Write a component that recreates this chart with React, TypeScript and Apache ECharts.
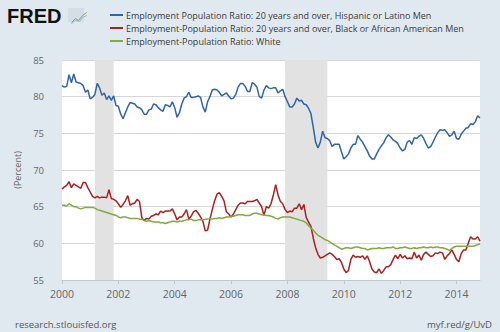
import React, { useEffect, useRef } from "react";
import * as echarts from "echarts";

const START_YEAR = 2000;
const SERIES_NAMES = [
  "Employment Population Ratio: 20 years and over, Hispanic or Latino Men",
  "Employment-Population Ratio: 20 years and over, Black or African American Men",
  "Employment-Population Ratio: White",
];

const hispanicMen = [
  81.5, 81.3, 81.4, 83.0, 81.9, 83.1, 82.0, 81.9, 81.8, 81.5, 80.6, 80.9,
  79.7, 79.9, 80.3, 81.8, 81.2, 80.2, 80.5, 79.6, 80.1, 79.5, 80.1, 78.8,
  78.7, 77.6, 77.0, 77.8, 78.6, 79.2, 79.1, 79.0, 78.6, 78.5, 78.2, 77.6,
  77.6, 78.2, 78.3, 79.0, 78.9, 78.5, 78.2, 78.0, 78.9, 78.8, 78.6, 79.3,
  78.5, 77.2, 77.8, 79.0, 79.8, 80.0, 80.6, 79.9, 79.9, 80.0, 80.1, 79.9,
  78.6, 77.9, 79.3, 80.0, 80.9, 81.0, 80.9, 80.6, 80.1, 80.3, 80.5, 80.1,
  79.7, 79.8, 80.3, 81.3, 81.8, 81.8, 81.4, 80.7, 80.7, 81.9, 81.7, 81.3,
  80.0, 79.8, 80.9, 81.5, 81.2, 81.1, 81.2, 81.2, 80.5, 80.8, 81.0, 80.0,
  79.3, 78.6, 78.6, 79.0, 79.8, 79.4, 79.5, 79.0, 78.9, 78.4, 77.7, 75.8,
  73.8, 73.0, 73.8, 75.3, 74.4, 74.3, 74.0, 73.2, 73.5, 73.5, 73.5, 72.5,
  71.5, 71.8, 72.2, 73.0, 73.5, 73.5, 74.7, 74.2, 73.8, 73.2, 72.6, 71.9,
  71.5, 71.5, 72.2, 72.8, 73.3, 73.7, 74.4, 74.8, 74.5, 74.1, 73.9, 73.6,
  73.0, 72.6, 72.8, 73.8, 74.0, 73.5, 74.4, 74.3, 74.6, 74.8, 74.3, 73.6,
  73.0, 73.2, 73.8, 74.5, 75.1, 75.5, 75.4, 75.5, 75.1, 74.6, 74.8, 75.3,
  74.3, 74.2, 74.9, 75.3, 75.7, 75.8, 76.3, 76.2, 76.6, 77.4, 77.1,
];

const blackMen = [
  67.4, 67.7, 67.9, 68.4, 67.6, 68.1, 67.9, 67.7, 67.5, 68.3, 68.3, 67.6,
  67.0, 66.4, 66.2, 66.4, 66.2, 66.3, 66.3, 66.2, 67.3, 66.1, 66.0, 65.8,
  65.4, 64.9, 65.3, 65.8, 66.5, 65.2, 65.4, 65.5, 66.0, 65.7, 63.5, 63.1,
  63.4, 63.3, 63.7, 63.8, 64.0, 63.9, 64.4, 64.2, 64.4, 64.4, 64.4, 64.7,
  64.0, 63.2, 63.6, 63.6, 64.0, 64.6, 63.3, 63.7, 64.3, 64.5, 64.1, 63.6,
  63.0, 61.7, 61.8, 63.3, 64.6, 65.8, 66.7, 66.9, 66.4, 65.8, 64.3, 64.0,
  63.6, 64.0, 64.6, 65.2, 65.5, 65.5, 65.4, 65.7, 65.7, 65.7, 65.8, 66.0,
  65.5, 65.0, 63.8, 65.0, 64.8, 65.4, 66.6, 68.0, 66.6, 65.7, 65.4, 64.6,
  64.2, 64.4, 64.3, 64.8, 64.8, 65.4, 64.6, 65.3, 63.5, 62.9, 62.3, 60.7,
  59.4, 58.5, 58.0, 58.1, 58.3, 58.5, 58.7, 58.5, 58.2, 57.8, 57.9, 57.4,
  56.5, 56.0, 56.3, 57.8, 58.4, 58.1, 58.2, 58.1, 58.3, 57.8, 58.3, 57.5,
  56.5, 56.1, 56.0, 56.5, 55.9, 56.3, 56.8, 56.8, 57.1, 57.8, 58.4, 57.9,
  58.5, 58.0, 58.3, 57.9, 58.0, 57.9, 58.8, 58.0, 58.4, 57.7, 58.5, 58.8,
  58.5, 58.2, 58.3, 58.7, 58.6, 58.8, 58.7, 57.8, 58.3, 58.6, 59.1, 58.5,
  57.8, 57.5, 58.6, 59.1, 59.1, 60.0, 60.9, 60.6, 60.6, 60.9, 60.3,
];

const white = [
  65.2, 65.2, 65.1, 65.4, 65.2, 65.0, 65.0, 64.8, 64.7, 64.8, 64.9, 64.9,
  64.9, 64.9, 64.8, 64.6, 64.5, 64.4, 64.3, 64.2, 64.1, 64.0, 63.9, 63.8,
  63.6, 63.5, 63.6, 63.6, 63.5, 63.4, 63.4, 63.4, 63.4, 63.3, 63.3, 63.1,
  63.0, 63.1, 63.0, 62.9, 62.9, 62.9, 62.8, 62.8, 62.7, 62.8, 62.9, 63.0,
  63.0, 62.9, 63.0, 63.0, 63.1, 63.2, 63.2, 63.3, 63.1, 63.1, 63.2, 63.2,
  63.2, 63.3, 63.3, 63.4, 63.3, 63.4, 63.4, 63.5, 63.4, 63.5, 63.6, 63.6,
  63.7, 63.7, 63.8, 63.9, 63.9, 63.9, 63.8, 63.8, 63.8, 64.0, 64.1, 64.1,
  64.0, 63.9, 63.9, 63.8, 63.8, 63.7, 63.6, 63.4, 63.3, 63.5, 63.6, 63.6,
  63.6, 63.6, 63.5, 63.4, 63.3, 63.2, 63.1, 63.0, 62.8, 62.4, 62.1, 61.8,
  61.4, 61.1, 60.9, 60.7, 60.5, 60.4, 60.2, 60.0, 59.8, 59.6, 59.4, 59.2,
  59.3, 59.4, 59.4, 59.3, 59.4, 59.5, 59.5, 59.4, 59.3, 59.3, 59.1, 59.2,
  59.3, 59.3, 59.3, 59.4, 59.3, 59.3, 59.4, 59.4, 59.4, 59.5, 59.3, 59.3,
  59.4, 59.4, 59.5, 59.4, 59.3, 59.3, 59.4, 59.3, 59.4, 59.4, 59.5, 59.4,
  59.4, 59.5, 59.4, 59.5, 59.5, 59.4, 59.4, 59.3, 59.2, 59.0, 59.3, 59.5,
  59.6, 59.6, 59.6, 59.6, 59.6, 59.6, 59.6, 59.6, 59.7, 59.8, 60.0,
];

// Recessions as [start, end] in decimal years
const recessions = [
  [2001 + 2 / 12, 2001 + 10 / 12],
  [2007 + 11 / 12, 2009 + 5 / 12],
];

const COLORS = ["#2f64a8", "#aa1f1f", "#82aa3c"];

const toXY = (vals: number[]) => vals.map((v, i) => [START_YEAR + i / 12, v]);

export default function App() {
  const ref = useRef<HTMLDivElement>(null);
  useEffect(() => {
    if (!ref.current) return;
    const chart = echarts.init(ref.current, undefined, { renderer: "svg" });
    const lastX = START_YEAR + (hispanicMen.length - 1) / 12;
    const font = "'Open Sans', 'DejaVu Sans', sans-serif";
    chart.setOption({
      animation: false,
      backgroundColor: "#e1e9f0",
      textStyle: { fontFamily: font },
      grid: {
        left: 62,
        right: 20,
        top: 60,
        bottom: 52,
        show: true,
        backgroundColor: "#ffffff",
        borderWidth: 0,
      },
      legend: {
        orient: "vertical",
        left: 110,
        top: 9,
        padding: 0,
        itemGap: 1,
        itemWidth: 13,
        itemHeight: 2,
        icon: "rect",
        textStyle: { fontSize: 9, lineHeight: 12, color: "#3a3a3a", fontFamily: font, padding: [0, 0, 0, -2] },
        data: SERIES_NAMES,
      },
      xAxis: {
        type: "value",
        min: START_YEAR,
        max: lastX,
        interval: 2,
        axisLine: { show: true, lineStyle: { color: "#c0c8d0" } },
        axisTick: { show: true, length: 4, lineStyle: { color: "#c0c8d0" } },
        splitLine: { show: false },
        axisLabel: {
          color: "#666",
          fontSize: 10.5,
          margin: 8,
          formatter: (v: number) => String(Math.round(v)),
          showMaxLabel: false,
        },
      },
      yAxis: {
        type: "value",
        min: 55,
        max: 85,
        interval: 5,
        name: "(Percent)",
        nameLocation: "middle",
        nameGap: 40,
        nameTextStyle: { color: "#666", fontSize: 9 },
        axisLine: { show: false },
        axisTick: { show: false },
        splitLine: { lineStyle: { color: "#d6d6d6", width: 1 } },
        axisLabel: { color: "#666", fontSize: 9.5, margin: 18 },
      },
      graphic: [
        {
          type: "text",
          left: 7,
          top: 6,
          style: {
            text: "FRED",
            fill: "#111",
            font: "bold 20px 'Liberation Sans', Arial, sans-serif",
          },
        },
        {
          type: "rect",
          left: 68,
          top: 8,
          shape: { width: 16, height: 14 },
          style: { fill: "#d5dde5" },
        },
        {
          type: "polyline",
          left: 69,
          top: 10,
          shape: { points: [[0, 10], [4, 6], [7, 8], [11, 3], [15, 0]] },
          style: { stroke: "#7fa65a", lineWidth: 1, fill: "none" },
        },
        {
          type: "polyline",
          left: 69,
          top: 13,
          shape: { points: [[0, 8], [4, 5], [8, 6], [11, 2], [15, 0]] },
          style: { stroke: "#8fb6d6", lineWidth: 1, fill: "none" },
        },
        {
          type: "text",
          left: 15,
          top: 319,
          style: { text: "research.stlouisfed.org", fill: "#555", font: `9.5px ${font}` },
        },
        {
          type: "text",
          right: 8,
          top: 319,
          style: { text: "myf.red/g/UvD", fill: "#555", font: `9.5px ${font}` },
        },
      ],
      series: [
        {
          name: SERIES_NAMES[0],
          type: "line",
          data: toXY(hispanicMen),
          showSymbol: false,
          lineStyle: { width: 1.5, color: COLORS[0] },
          itemStyle: { color: COLORS[0] },
          z: 3,
          markArea: {
            silent: true,
            itemStyle: { color: "#e2e2e2" },
            data: recessions.map(([a, b]) => [{ xAxis: a }, { xAxis: b }]),
          },
        },
        {
          name: SERIES_NAMES[1],
          type: "line",
          data: toXY(blackMen),
          showSymbol: false,
          lineStyle: { width: 1.5, color: COLORS[1] },
          itemStyle: { color: COLORS[1] },
          z: 3,
        },
        {
          name: SERIES_NAMES[2],
          type: "line",
          data: toXY(white),
          showSymbol: false,
          lineStyle: { width: 1.5, color: COLORS[2] },
          itemStyle: { color: COLORS[2] },
          z: 3,
        },
      ],
    });
    return () => chart.dispose();
  }, []);
  return <div ref={ref} style={{ width: 500, height: 332, position: "absolute", left: 0, top: 0 }} />;
}
